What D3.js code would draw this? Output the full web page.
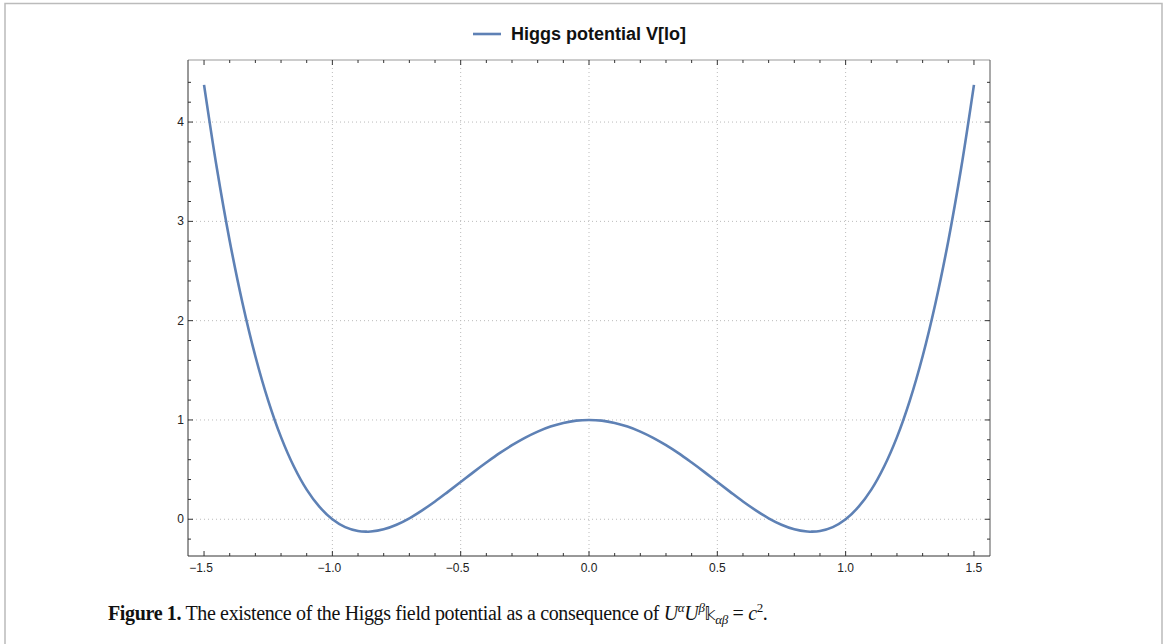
<!DOCTYPE html>
<html>
<head>
<meta charset="utf-8">
<script src="https://cdn.jsdelivr.net/npm/d3@7"></script>
<style>
  body { margin: 0; background: #fff; }
  svg { display: block; }
</style>
</head>
<body>
<svg id="chart" width="1168" height="644"></svg>
<script>
// values
const xs = [-1.5, -1.45, -1.4, -1.35, -1.3, -1.25, -1.2, -1.15, -1.1, -1.05, -1.0,
  -0.95, -0.9, -0.866, -0.85, -0.8, -0.75, -0.7, -0.65, -0.6, -0.55, -0.5, -0.45, -0.4,
  -0.35, -0.3, -0.25, -0.2, -0.15, -0.1, -0.05, 0,
  0.05, 0.1, 0.15, 0.2, 0.25, 0.3, 0.35, 0.4, 0.45, 0.5, 0.55, 0.6, 0.65, 0.7,
  0.75, 0.8, 0.85, 0.866, 0.9, 0.95, 1.0, 1.05, 1.1, 1.15, 1.2, 1.25, 1.3, 1.35, 1.4, 1.45, 1.5];
const vs = [4.375, 3.534, 2.803, 2.176, 1.642, 1.195, 0.827, 0.531, 0.298, 0.124, 0.0,
  -0.079, -0.118, -0.125, -0.124, -0.101, -0.055, 0.010, 0.090, 0.179, 0.276, 0.375, 0.475, 0.571,
  0.663, 0.746, 0.820, 0.883, 0.934, 0.970, 0.993, 1.0,
  0.993, 0.970, 0.934, 0.883, 0.820, 0.746, 0.663, 0.571, 0.475, 0.375, 0.276, 0.179, 0.090, 0.010,
  -0.055, -0.101, -0.124, -0.125, -0.118, -0.079, 0.0, 0.124, 0.298, 0.531, 0.827, 1.195, 1.642, 2.176, 2.803, 3.534, 4.375];
const xMajor = [-1.5, -1.0, -0.5, 0.0, 0.5, 1.0, 1.5];
const xGrid = [-1.0, -0.5, 0.0, 0.5, 1.0];
const yMajor = [0, 1, 2, 3, 4];
const legendLabel = "Higgs potential V[lo]";

const svg = d3.select("#chart");
const pLeft = 188, pRight = 990, pTop = 60, pBottom = 556;

const x = d3.scaleLinear().domain([-1.5625, 1.5625]).range([pLeft, pRight]);
const y = d3.scaleLinear().domain([-0.37, 4.625]).range([pBottom, pTop]);

// page frame
svg.append("path")
  .attr("d", `M5,644V3.5H1162V644`)
  .attr("fill", "none").attr("stroke", "#bbb").attr("stroke-width", 1.5);

// grid
const grid = svg.append("g").attr("stroke", "#bbb").attr("stroke-dasharray", "1,3").attr("stroke-width", 1);
grid.selectAll(".gx").data(xGrid).join("line")
  .attr("x1", d => x(d)).attr("x2", d => x(d)).attr("y1", pTop).attr("y2", pBottom);
grid.selectAll(".gy").data(yMajor).join("line")
  .attr("y1", d => y(d)).attr("y2", d => y(d)).attr("x1", pLeft).attr("x2", pRight);

// minor tick positions
const xMinor = d3.range(-15, 16).map(i => i / 10).filter(v => !xMajor.some(m => Math.abs(m - v) < 1e-9));
const yMinor = d3.range(-1, 23).map(i => i / 5).filter(v => !yMajor.some(m => Math.abs(m - v) < 1e-9));

// frame: bottom/left dark, top/right gray
const frame = svg.append("g").attr("fill", "none");
frame.append("line").attr("x1", pLeft).attr("x2", pRight).attr("y1", pTop).attr("y2", pTop).attr("stroke", "#999");
frame.append("line").attr("x1", pRight).attr("x2", pRight).attr("y1", pTop).attr("y2", pBottom).attr("stroke", "#555");
frame.append("line").attr("x1", pLeft).attr("x2", pRight).attr("y1", pBottom).attr("y2", pBottom).attr("stroke", "#333");
frame.append("line").attr("x1", pLeft).attr("x2", pLeft).attr("y1", pTop).attr("y2", pBottom).attr("stroke", "#333");

const ticks = svg.append("g").attr("stroke", "#333").attr("stroke-width", 1);
// bottom
ticks.selectAll(".bM").data(xMajor).join("line")
  .attr("x1", d => x(d)).attr("x2", d => x(d)).attr("y1", pBottom).attr("y2", pBottom - 5);
ticks.selectAll(".bm").data(xMinor).join("line")
  .attr("x1", d => x(d)).attr("x2", d => x(d)).attr("y1", pBottom).attr("y2", pBottom - 3);
// top
ticks.selectAll(".tM").data(xMajor).join("line")
  .attr("x1", d => x(d)).attr("x2", d => x(d)).attr("y1", pTop).attr("y2", pTop + 5);
ticks.selectAll(".tm").data(xMinor).join("line")
  .attr("x1", d => x(d)).attr("x2", d => x(d)).attr("y1", pTop).attr("y2", pTop + 3);
// left
ticks.selectAll(".lM").data(yMajor).join("line")
  .attr("y1", d => y(d)).attr("y2", d => y(d)).attr("x1", pLeft).attr("x2", pLeft + 5);
ticks.selectAll(".lm").data(yMinor).join("line")
  .attr("y1", d => y(d)).attr("y2", d => y(d)).attr("x1", pLeft).attr("x2", pLeft + 3);
// right
ticks.selectAll(".rM").data(yMajor).join("line")
  .attr("y1", d => y(d)).attr("y2", d => y(d)).attr("x1", pRight).attr("x2", pRight - 5);
ticks.selectAll(".rm").data(yMinor).join("line")
  .attr("y1", d => y(d)).attr("y2", d => y(d)).attr("x1", pRight).attr("x2", pRight - 3);

// tick labels
const fmt = d => (d < 0 ? "\u2212" : "") + Math.abs(d).toFixed(1);
svg.append("g").attr("font-family", "Liberation Sans, Arial, sans-serif").attr("font-size", 12)
  .attr("text-anchor", "middle").attr("fill", "#222")
  .selectAll("text").data(xMajor).join("text")
  .attr("x", d => x(d) - (d < 0 ? 3 : 0)).attr("y", pBottom + 16).text(fmt);
svg.append("g").attr("font-family", "Liberation Sans, Arial, sans-serif").attr("font-size", 12)
  .attr("text-anchor", "end").attr("fill", "#222")
  .selectAll("text").data(yMajor).join("text")
  .attr("x", pLeft - 4).attr("y", d => y(d) + 4).text(d => d);

// curve
const pts = xs.map((v, i) => [v, vs[i]]);
svg.append("path").datum(pts)
  .attr("fill", "none").attr("stroke", "#5e81b5").attr("stroke-width", 2.6)
  .attr("stroke-linejoin", "round")
  .attr("d", d3.line().x(d => x(d[0])).y(d => y(d[1])).curve(d3.curveCatmullRom.alpha(0.5)));

// legend
svg.append("line").attr("x1", 473).attr("x2", 501).attr("y1", 34).attr("y2", 34)
  .attr("stroke", "#5e81b5").attr("stroke-width", 2.6);
svg.append("text").attr("x", 511).attr("y", 40)
  .attr("font-family", "Liberation Sans, Arial, sans-serif").attr("font-weight", "bold")
  .attr("font-size", 18).attr("fill", "#111").text(legendLabel);

// caption
const cap = svg.append("text").attr("x", 108).attr("y", 620)
  .attr("font-family", "Liberation Serif, Times New Roman, serif").attr("font-size", 20)
  .attr("letter-spacing", -0.35).attr("fill", "#111");
cap.append("tspan").attr("font-weight", "bold").text("Figure 1.");
cap.append("tspan").text(" The existence of the Higgs field potential as a consequence of ");
cap.append("tspan").attr("font-style", "italic").text("U");
cap.append("tspan").attr("font-style", "italic").attr("font-size", 13).attr("dy", -8).text("\u03b1");
cap.append("tspan").attr("font-style", "italic").attr("dy", 8).text("U");
cap.append("tspan").attr("font-style", "italic").attr("font-size", 13).attr("dy", -8).text("\u03b2");
cap.append("tspan").attr("dy", 8).attr("font-family", "DejaVu Sans, sans-serif").attr("font-size", 17).text("\ud835\udd5c");
cap.append("tspan").attr("font-style", "italic").attr("font-size", 13).attr("dy", 4).text("\u03b1\u03b2");
cap.append("tspan").attr("dy", -4).text(" = ");
cap.append("tspan").attr("font-style", "italic").text("c");
cap.append("tspan").attr("font-size", 13).attr("dy", -8).text("2");
cap.append("tspan").attr("dy", 8).text(".");
</script>
</body>
</html>
